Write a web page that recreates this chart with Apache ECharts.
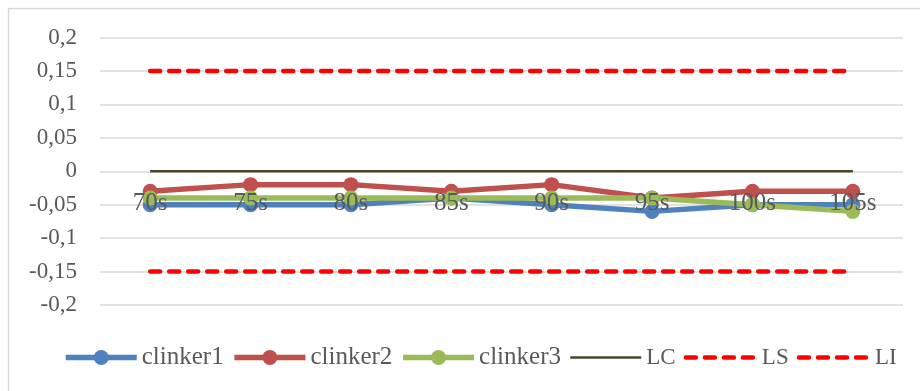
<!DOCTYPE html>
<html>
<head>
<meta charset="utf-8">
<script src="https://cdn.jsdelivr.net/npm/echarts@6/dist/echarts.min.js"></script>
<style>
  html, body { margin: 0; padding: 0; background: #fff; }
  #chart { width: 920px; height: 391px; }
</style>
</head>
<body>
<div id="chart"></div>
<script>
// Time steps along the horizontal axis
const categories = ['70s', '75s', '80s', '85s', '90s', '95s', '100s', '105s'];

// Measured deviations per clinker sample
const clinker1 = [-0.05, -0.05, -0.05, -0.04, -0.05, -0.06, -0.05, -0.05];
const clinker2 = [-0.03, -0.02, -0.02, -0.03, -0.02, -0.04, -0.03, -0.03];
const clinker3 = [-0.04, -0.04, -0.04, -0.04, -0.04, -0.04, -0.05, -0.06];

// Control limits: centre line, upper and lower limits
const LC = [0, 0, 0, 0, 0, 0, 0, 0];
const LS = [0.15, 0.15, 0.15, 0.15, 0.15, 0.15, 0.15, 0.15];
const LI = [-0.15, -0.15, -0.15, -0.15, -0.15, -0.15, -0.15, -0.15];

// Value axis range and step
const yMin = -0.2, yMax = 0.2, yStep = 0.05;

const FONT = '"Liberation Serif", "DejaVu Serif", serif';
const TEXT = '#595959';

// Plot area insets
const GRID = { left: 100, right: 17, top: 37.5, bottom: 86 };
const CHART_H = 391;
// Category labels sit just below the zero line rather than the plot bottom
const plotH = CHART_H - GRID.top - GRID.bottom;
const zeroFromBottom = plotH * (0 - yMin) / (yMax - yMin);
const xLabelMargin = 20 - zeroFromBottom;

function markerSeries(name, data, color) {
  return {
    name, type: 'line', data,
    symbol: 'circle', symbolSize: 15,
    itemStyle: { color, borderWidth: 0 },
    lineStyle: { color, width: 5.5 },
    z: 3
  };
}
function limitSeries(name, data, color, width, dashed) {
  return {
    name, type: 'line', data,
    symbol: 'none', showSymbol: false,
    itemStyle: { color },
    lineStyle: dashed
      ? { color, width, type: [10, 9], cap: 'round' }
      : { color, width },
    z: 2
  };
}

const limitLegendText = { fontFamily: FONT, fontSize: 23, color: TEXT };

const chart = echarts.init(document.getElementById('chart'), null, { renderer: 'canvas' });
chart.setOption({
  animation: false,
  backgroundColor: '#fff',
  graphic: [{
    type: 'rect',
    shape: { x: 8.5, y: 8.5, width: 1000, height: 1000 },
    style: { fill: 'none', stroke: '#d9d9d9', lineWidth: 1.5 },
    silent: true, z: -10
  }],
  grid: Object.assign({ containLabel: false }, GRID),
  legend: {
    left: 63, top: 345, padding: 0,
    itemWidth: 71, itemHeight: 19, itemGap: 8,
    lineStyle: { width: 'inherit' },
    textStyle: { fontFamily: FONT, fontSize: 25, color: TEXT },
    data: [
      { name: 'clinker1' },
      { name: 'clinker2' },
      { name: 'clinker3' },
      { name: 'LC', itemStyle: { opacity: 0 }, textStyle: limitLegendText },
      { name: 'LS', itemStyle: { opacity: 0 }, textStyle: limitLegendText },
      { name: 'LI', itemStyle: { opacity: 0 }, textStyle: limitLegendText }
    ]
  },
  xAxis: {
    type: 'category', data: categories, boundaryGap: true,
    zlevel: 1,
    axisLine: { show: false },
    axisTick: { show: false },
    axisLabel: { fontFamily: FONT, fontSize: 25, color: TEXT, margin: xLabelMargin },
    splitLine: { show: false }
  },
  yAxis: {
    type: 'value', min: yMin, max: yMax, interval: yStep,
    axisLine: { show: false }, axisTick: { show: false },
    axisLabel: {
      fontFamily: FONT, fontSize: 23, color: TEXT, margin: 23,
      formatter: v => String(Math.round(v * 100) / 100).replace('.', ',')
    },
    splitLine: { lineStyle: { color: '#d9d9d9', width: 1.5 } }
  },
  series: [
    markerSeries('clinker1', clinker1, '#4f81bd'),
    markerSeries('clinker2', clinker2, '#c0504d'),
    markerSeries('clinker3', clinker3, '#9bbb59'),
    limitSeries('LC', LC, '#4a4528', 2.5, false),
    limitSeries('LS', LS, '#ff0000', 4.5, true),
    limitSeries('LI', LI, '#ff0000', 4.5, true)
  ]
});
</script>
</body>
</html>
